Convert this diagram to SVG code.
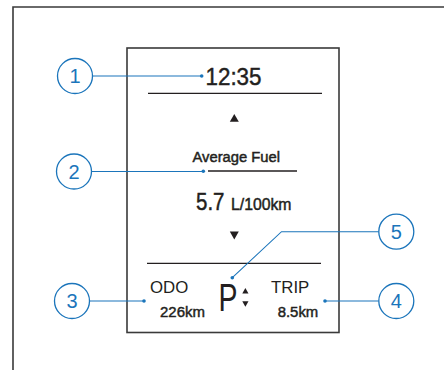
<svg xmlns="http://www.w3.org/2000/svg" width="444" height="370" viewBox="0 0 444 370">
<style>
.frame{fill:none;stroke:#3a3a3a;stroke-width:1.6}
.rule{stroke:#231f20;stroke-width:1.3}
.lbl{fill:#231f20;font-family:"Liberation Sans",Arial,sans-serif}
.med{stroke:#231f20;stroke-width:0.45}
.call circle{fill:#fff;stroke:#1b75bb;stroke-width:1.3}
.call text{fill:#1b75bb;font-family:"Liberation Sans",Arial,sans-serif;font-size:20px;text-anchor:middle}
.lead{fill:none;stroke:#1b75bb;stroke-width:1.1}
.dot{fill:#1b75bb}
.tri{fill:#231f20}
</style>
<rect width="444" height="370" fill="#fff"/>
<path class="frame" d="M13,370 V7 H444"/>
<g id="display">
<rect class="frame" x="127" y="48" width="212" height="284.5"/>
<line class="rule" x1="148" y1="93.3" x2="322" y2="93.3"/>
<line class="rule" x1="208" y1="171" x2="297" y2="171"/>
<line class="rule" x1="147" y1="263.3" x2="321" y2="263.3"/>
<text class="lbl med" x="205.5" y="85" font-size="24" textLength="56" lengthAdjust="spacingAndGlyphs" stroke-width="0.3">12:35</text>
<polygon class="tri" points="229.8,121.7 238.8,121.7 234.3,114"/>
<text class="lbl med" x="192.5" y="161.7" font-size="14" textLength="87.5" lengthAdjust="spacingAndGlyphs">Average Fuel</text>
<text class="lbl med" x="196" y="210" font-size="23" textLength="28.5" lengthAdjust="spacingAndGlyphs" stroke-width="0.5">5.7</text>
<text class="lbl med" x="231" y="210" font-size="16" textLength="60.5" lengthAdjust="spacingAndGlyphs" stroke-width="0.3">L/100km</text>
<polygon class="tri" points="229.8,231.5 238.8,231.5 234.3,239.5"/>
<text class="lbl" x="150" y="293.3" font-size="17" textLength="38.3" lengthAdjust="spacingAndGlyphs">ODO</text>
<text class="lbl med" x="160" y="317.3" font-size="15" textLength="45" lengthAdjust="spacingAndGlyphs">226km</text>
<text class="lbl" x="218.5" y="311" font-size="39" textLength="19" lengthAdjust="spacingAndGlyphs">P</text>
<polygon class="tri" points="242.3,293.5 248.5,293.5 245.4,288"/>
<polygon class="tri" points="242.3,301.3 248.5,301.3 245.4,306.8"/>
<text class="lbl" x="271" y="293.3" font-size="17" textLength="38.3" lengthAdjust="spacingAndGlyphs">TRIP</text>
<text class="lbl med" x="277.7" y="317.3" font-size="15" textLength="40.6" lengthAdjust="spacingAndGlyphs">8.5km</text>
</g>
<g id="connectors">
<polyline class="lead" points="92.5,76 201.7,76"/>
<circle class="dot" cx="201.7" cy="76" r="1.8"/>
<polyline class="lead" points="91.5,171.5 203.3,171.5"/>
<circle class="dot" cx="203.3" cy="171.3" r="1.8"/>
<polyline class="lead" points="89.5,301 144,301"/>
<circle class="dot" cx="144" cy="301" r="1.8"/>
<polyline class="lead" points="378.5,301 325,301"/>
<circle class="dot" cx="325" cy="301" r="1.8"/>
<polyline class="lead" points="378.8,231.7 281.5,231.7 232.3,277.7"/>
<circle class="dot" cx="232.3" cy="277.7" r="1.8"/>
</g>
<g id="callout1" class="call"><circle cx="75" cy="76" r="17.5"/><text x="75" y="83">1</text></g>
<g id="callout2" class="call"><circle cx="74" cy="171.5" r="17.5"/><text x="74" y="178.5">2</text></g>
<g id="callout3" class="call"><circle cx="72" cy="301" r="17.5"/><text x="72" y="308">3</text></g>
<g id="callout4" class="call"><circle cx="396.3" cy="301" r="17.5"/><text x="396.3" y="308">4</text></g>
<g id="callout5" class="call"><circle cx="396.3" cy="231.7" r="17.5"/><text x="396.3" y="238.7">5</text></g>
</svg>
